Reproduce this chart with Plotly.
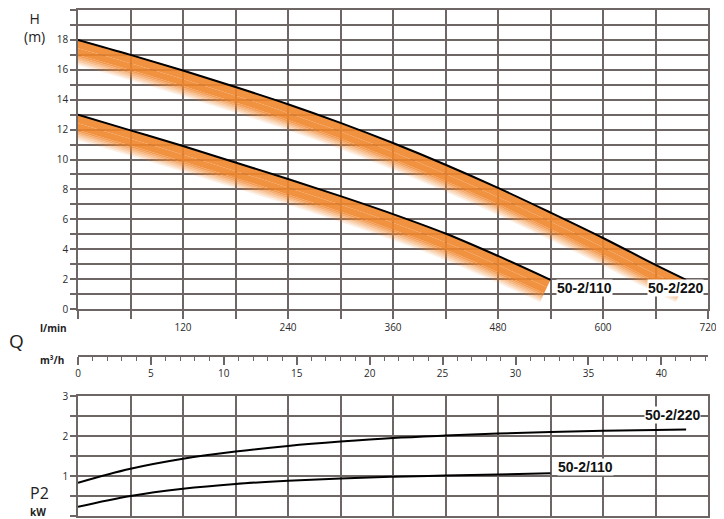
import plotly.graph_objects as go

# ---------------- data ----------------
Q_H220 = [0, 60, 120, 180, 240, 300, 360, 420, 480, 540, 600, 660, 695]
H_220 = [18.0, 17.0, 15.95, 14.85, 13.7, 12.45, 11.1, 9.65, 8.1, 6.45, 4.75, 2.95, 1.95]
Q_H110 = [0, 60, 120, 180, 240, 300, 360, 420, 480, 540]
H_110 = [13.0, 11.95, 10.9, 9.8, 8.7, 7.55, 6.35, 5.05, 3.55, 1.95]

Q_P220 = [0, 60, 120, 180, 240, 300, 360, 420, 480, 540, 600, 660, 695]
P2_220 = [0.83, 1.18, 1.43, 1.61, 1.75, 1.86, 1.95, 2.01, 2.06, 2.1, 2.13, 2.15, 2.16]
Q_P110 = [0, 60, 120, 180, 240, 300, 360, 420, 480, 540]
P2_110 = [0.23, 0.5, 0.68, 0.8, 0.88, 0.94, 0.98, 1.01, 1.04, 1.07]

Q_TICKS = list(range(0, 721, 60))
Q_LABELS = ["" if (v % 120 or v == 0) else str(v) for v in Q_TICKS]
H_TICKS = list(range(0, 21))
H_LABELS = [str(v) if v % 2 == 0 else "" for v in H_TICKS]
P_TICKS = [0, 0.5, 1, 1.5, 2, 2.5, 3]
P_LABELS = ["0", "", "1", "", "2", "", "3"]
M3H_TICKS = list(range(0, 41, 5))

GRID = "#6e6565"
TXT = "#2a2a2a"
# the page body has an 8px margin, so the figure is drawn at (8, 8)
OFF = 8
W, HGT = 724 - OFF, 519 - OFF
PAGE_L, PAGE_T, PAGE_R, PAGE_B = 78, 10, 708, 516   # plot area edges in page pixels
ML, MT = PAGE_L - OFF, PAGE_T - OFF
MR, MB = 724 - PAGE_R, 519 - PAGE_B
PW, PH = PAGE_R - PAGE_L, PAGE_B - PAGE_T


def px(x, y):
    return (x - PAGE_L) / PW, (PAGE_B - y) / PH


fig = go.Figure()


def add_band(Q, H):
    depths = [0, 0.5, 0.9, 1.0, 1.1, 1.2, 1.3, 1.4, 1.5]
    shift = 8.0
    fig.add_trace(go.Scatter(x=Q, y=H, mode="lines", line=dict(width=0, shape="spline"),
                             showlegend=False, hoverinfo="skip"))
    for i in range(1, len(depths)):
        d = depths[i]
        mid = (depths[i - 1] + d) / 2
        if mid < 0.9:
            a = 0.9
        else:
            a = max(0.05, 0.9 * (1 - (mid - 0.9) / 0.65))
        fig.add_trace(go.Scatter(
            x=[q - shift * d for q in Q], y=[h - d for h in H], mode="lines",
            line=dict(width=0, shape="spline"), fill="tonexty",
            fillcolor=f"rgba(240,134,44,{a:.3f})", showlegend=False, hoverinfo="skip"))


add_band(Q_H220, H_220)
add_band(Q_H110, H_110)

for Q, H in [(Q_H220, H_220), (Q_H110, H_110)]:
    fig.add_trace(go.Scatter(x=Q, y=H, mode="lines", line=dict(color="black", width=2, shape="spline"),
                             showlegend=False, hoverinfo="skip"))
for Q, P in [(Q_P220, P2_220), (Q_P110, P2_110)]:
    fig.add_trace(go.Scatter(x=Q, y=P, mode="lines", line=dict(color="black", width=2, shape="spline"),
                             xaxis="x2", yaxis="y2", showlegend=False, hoverinfo="skip"))

# dummy trace for m3/h axis
fig.add_trace(go.Scatter(x=[0], y=[None], xaxis="x3", yaxis="y", mode="markers",
                         showlegend=False, hoverinfo="skip"))

tickfont = dict(family="Open Sans", size=10, color=TXT)
top_bot = px(0, 309)[1]
p2_top = px(0, 396)[1]
m3_pos = px(0, 356)[1]

common = dict(automargin=False, zeroline=False, showline=True, linecolor=GRID, linewidth=1.5,
              tickcolor=GRID, tickwidth=1.5, tickfont=tickfont)

fig.update_layout(
    width=W, height=HGT, margin=dict(l=ML, r=MR, t=MT, b=MB, autoexpand=False),
    paper_bgcolor="white", plot_bgcolor="white",
    xaxis=dict(domain=[0, 1], range=[0, 720], anchor="y", tickvals=Q_TICKS, ticktext=Q_LABELS,
               ticks="outside", ticklen=8, showgrid=True, gridcolor=GRID, gridwidth=1.5,
               mirror=True, **common),
    yaxis=dict(domain=[top_bot, 1], range=[0, 20], tickvals=H_TICKS, ticktext=H_LABELS,
               ticks="outside", ticklen=6, showgrid=True, gridcolor=GRID, gridwidth=1.5,
               mirror=True, **common),
    xaxis2=dict(domain=[0, 1], range=[0, 720], anchor="y2", tickvals=Q_TICKS, showticklabels=False,
                ticks="", showgrid=True, gridcolor=GRID, gridwidth=1.5, mirror=True, **common),
    yaxis2=dict(domain=[0, p2_top], range=[0, 3], anchor="x2", tickvals=P_TICKS, ticktext=P_LABELS,
                ticks="outside", ticklen=6, showgrid=True, gridcolor=GRID, gridwidth=1.5,
                mirror=True, **common),
    xaxis3=dict(overlaying="x", anchor="free", position=m3_pos, side="bottom", range=[0, 720 / 16.667],
                tickvals=M3H_TICKS, ticks="outside", ticklen=8,
                minor=dict(dtick=1, ticks="outside", ticklen=4, tickwidth=1.2, tickcolor=GRID),
                showgrid=False, **common),
)

# axis titles (page-pixel centres)
ax, ay = px(34, 8)
fig.add_annotation(text="H<br>(m)", x=ax, y=ay, xref="paper", yref="paper", showarrow=False,
                   xanchor="center", yanchor="top", borderpad=0, align="center",
                   font=dict(family="Open Sans", size=14, color="#222"))
labels = [
    ("l/min", 53, 328, 10, "bold"),
    ("Q", 16, 341, 19, "normal"),
    ("m³/h", 52, 360, 10, "bold"),
    ("P2", 39, 493, 16, "normal"),
    ("kW", 38, 512, 10, "bold"),
]
for t, x, y, s, wgt in labels:
    ax, ay = px(x, y)
    fig.add_annotation(text=t, x=ax, y=ay, xref="paper", yref="paper", showarrow=False,
                       xanchor="center", yanchor="middle", borderpad=0,
                       font=dict(family="Open Sans", size=s, color="#222", weight=wgt))

curve_labels = [
    ("50-2/110", 584, 288),
    ("50-2/220", 675, 288),
    ("50-2/220", 672, 415),
    ("50-2/110", 585, 467),
]
for t, x, y in curve_labels:
    ax, ay = px(x, y)
    fig.add_annotation(text=f"<b>{t}</b>", x=ax, y=ay, xref="paper", yref="paper", showarrow=False,
                       xanchor="center", yanchor="middle", bgcolor="white", borderpad=0,
                       font=dict(family="Liberation Sans", size=14, color="#111"))

fig.write_html("out.html")
